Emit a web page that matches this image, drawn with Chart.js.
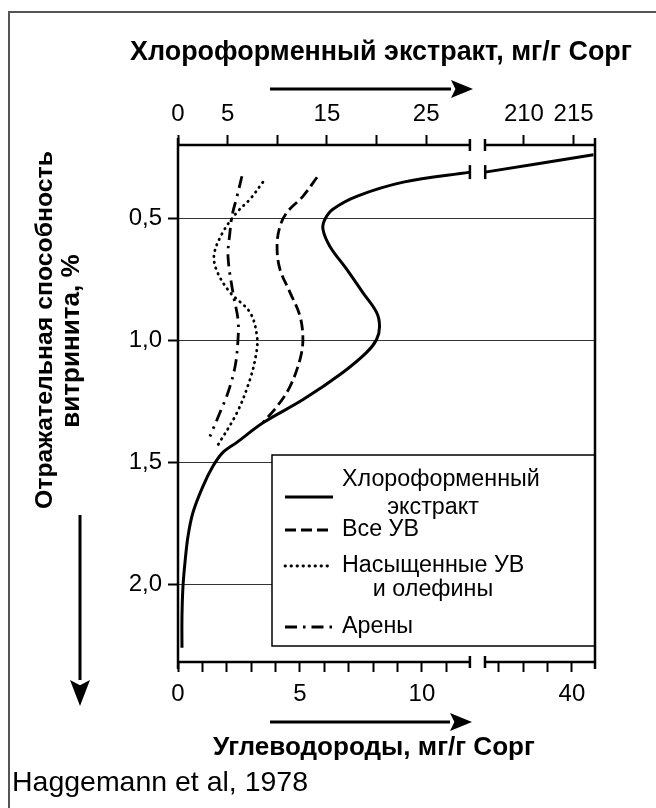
<!DOCTYPE html>
<html>
<head>
<meta charset="utf-8">
<script src="https://cdn.jsdelivr.net/npm/chart.js@4"></script>
<style>
  html, body { margin: 0; padding: 0; background: #fff; }
</style>
</head>
<body>
<canvas id="roChart" width="656" height="808"></canvas>
<script>
// Vitrinite reflectance vs. extract / hydrocarbon yield (Haggemann et al, 1978)

// Chloroform extract, mg/g Corg (top axis); null marks the axis break
const chlRo  = [0.24, 0.311, null, 0.311, 0.352, 0.41, 0.463, 0.504, 0.545, 0.615, 0.709, 0.803, 0.885, 0.943, 0.996, 1.049, 1.131, 1.242, 1.336, 1.418, 1.459, 1.516, 1.598, 1.705, 1.803, 1.91, 2.008, 2.131, 2.258];
const chlVal = [217, 206.1, null, 29.4, 22.7, 18.0, 15.6, 14.8, 14.6, 15.3, 17.0, 18.6, 20.0, 20.3, 20.0, 19.0, 16.6, 12.6, 8.6, 5.9, 4.5, 3.5, 2.5, 1.5, 1.0, 0.7, 0.5, 0.4, 0.4];

// Hydrocarbons, mg/g Corg (bottom axis)
const allRo  = [0.332, 0.41, 0.475, 0.533, 0.615, 0.709, 0.803, 0.90, 0.996, 1.078, 1.189, 1.27, 1.336];
const allVal = [5.70, 5.12, 4.47, 4.18, 4.06, 4.18, 4.59, 5.0, 5.12, 5.0, 4.59, 4.06, 3.48];

const satRo  = [0.352, 0.422, 0.475, 0.557, 0.648, 0.717, 0.803, 0.885, 0.984, 1.057, 1.16, 1.295, 1.434];
const satVal = [3.48, 2.95, 2.42, 1.84, 1.48, 1.60, 2.13, 2.95, 3.24, 3.20, 2.95, 2.42, 1.60];

const areRo  = [0.328, 0.41, 0.492, 0.557, 0.656, 0.803, 0.914, 0.996, 1.107, 1.213, 1.295, 1.393];
const areVal = [2.62, 2.42, 2.21, 2.13, 2.05, 2.25, 2.46, 2.46, 2.34, 2.05, 1.72, 1.31];

// Tick values and labels
const topTickVals   = [0, 5, 10, 15, 20, 25, 210, 215];
const topTickLabels = ['0', '5', '', '15', '', '25', '210', '215'];
const botTickVals   = [0, 1, 2, 3, 4, 5, 6, 7, 8, 9, 10, 11, 37, 38, 39, 40];
const botTickLabels = ['0', '', '', '', '', '5', '', '', '', '', '10', '', '', '', '', '40'];
const yTickVals     = [0.5, 1.0, 1.5, 2.0];
const yTickLabels   = ['0,5', '1,0', '1,5', '2,0'];

const legendNames = [['Хлороформенный', 'экстракт'], ['Все УВ'], ['Насыщенные УВ', 'и олефины'], ['Арены']];

// Broken axes: both x scales share one linear "axis unit" range
const AXIS_MAX = 42;
const BREAK_L = 29.4;
const BREAK_R = 30.92;
function topPos(v) { return v <= 30 ? v : 30.84 + (v - 206); }
const BOT_K = 2.457;
function botPos(v) { return v <= 15 ? v * BOT_K : 39.68 + (v - 40) * BOT_K; }

function points(vals, ros, pos) {
  return vals.map((v, i) => ({ x: v === null ? null : pos(v), y: ros[i] }));
}

const FONT = '"Liberation Sans", Arial, sans-serif';

// Cap marks on the chloroform curve at the axis break
const chlRadius = chlVal.map((v, i) => (i === 1 || i === 3) ? 7 : 0);

const datasets = [
  {
    label: legendNames[0].join(' '),
    data: points(chlVal, chlRo, topPos),
    xAxisID: 'xTop',
    borderColor: '#000',
    borderWidth: 3,
    borderDash: [],
    pointStyle: 'line',
    pointRotation: 90,
    pointRadius: chlRadius,
    pointBorderWidth: 2.5,
    pointBorderColor: '#000'
  },
  {
    label: legendNames[1].join(' '),
    data: points(allVal, allRo, botPos),
    xAxisID: 'xBot',
    borderColor: '#000',
    borderWidth: 2.8,
    borderDash: [11, 5],
    pointRadius: 0
  },
  {
    label: legendNames[2].join(' '),
    data: points(satVal, satRo, botPos),
    xAxisID: 'xBot',
    borderColor: '#000',
    borderWidth: 2.8,
    borderDash: [0.5, 5.5],
    borderCapStyle: 'round',
    pointRadius: 0
  },
  {
    label: legendNames[3].join(' '),
    data: points(areVal, areRo, botPos),
    xAxisID: 'xBot',
    borderColor: '#000',
    borderWidth: 2.8,
    borderDash: [12, 6, 2.5, 6],
    pointRadius: 0
  }
];

function fitSize(ctx, text, width, weight) {
  ctx.font = weight + ' 100px ' + FONT;
  return 100 * width / ctx.measureText(text).width;
}

function arrow(ctx, x1, y1, x2, y2, headLen, headW) {
  const a = Math.atan2(y2 - y1, x2 - x1);
  ctx.save();
  ctx.lineWidth = 3;
  ctx.beginPath();
  ctx.moveTo(x1, y1);
  ctx.lineTo(x2 - headLen * Math.cos(a), y2 - headLen * Math.sin(a));
  ctx.stroke();
  ctx.translate(x2, y2);
  ctx.rotate(a);
  ctx.beginPath();
  ctx.moveTo(0, 0);
  ctx.lineTo(-headLen, -headW / 2);
  ctx.lineTo(-headLen * 0.8, 0);
  ctx.lineTo(-headLen, headW / 2);
  ctx.closePath();
  ctx.fill();
  ctx.restore();
}

// Frame, broken axes, legend, arrows and titles
const decorPlugin = {
  id: 'decor',
  beforeDraw(chart) {
    const ctx = chart.ctx;
    ctx.save();
    ctx.fillStyle = '#fff';
    ctx.fillRect(0, 0, chart.width, chart.height);
    ctx.restore();
  },
  afterDatasetsDraw(chart) {
    const ctx = chart.ctx;
    const area = chart.chartArea;
    ctx.save();
    ctx.strokeStyle = '#000';
    ctx.fillStyle = '#000';

    // legend box
    const lx = 272, ly = 455, lw = area.right - 272, lh = 191;
    ctx.fillStyle = '#fff';
    ctx.fillRect(lx, ly, lw, lh);
    ctx.lineWidth = 1.5;
    ctx.strokeRect(lx, ly, lw, lh);
    ctx.fillStyle = '#000';

    const sampleY = [497, 530, 566, 627];
    const textY = [[480, 508], [530], [566, 590], [627]];
    const legendSize = fitSize(ctx, legendNames[0][0], 198, 'normal');
    chart.data.datasets.forEach((ds, i) => {
      ctx.save();
      ctx.lineWidth = ds.borderWidth;
      ctx.lineCap = ds.borderCapStyle || 'butt';
      ctx.setLineDash(ds.borderDash);
      ctx.beginPath();
      ctx.moveTo(285, sampleY[i]);
      ctx.lineTo(333, sampleY[i]);
      ctx.stroke();
      ctx.restore();
      ctx.font = legendSize + 'px ' + FONT;
      ctx.textBaseline = 'middle';
      legendNames[i].forEach((t, j) => {
        if (j === 0) {
          ctx.textAlign = 'left';
          ctx.fillText(t, 342, textY[i][j]);
        } else {
          ctx.textAlign = 'center';
          ctx.fillText(t, 433, textY[i][j]);
        }
      });
    });
    ctx.restore();
  },
  afterDraw(chart) {
    const ctx = chart.ctx;
    const area = chart.chartArea;
    const xTop = chart.scales.xTop;
    const bl = xTop.getPixelForValue(BREAK_L);
    const br = xTop.getPixelForValue(BREAK_R);
    ctx.save();
    ctx.strokeStyle = '#000';
    ctx.fillStyle = '#000';
    ctx.lineWidth = 2.5;

    // axis frame with breaks
    ctx.beginPath();
    ctx.moveTo(area.left, area.top - 7); ctx.lineTo(area.left, area.bottom + 7);
    ctx.moveTo(area.right, area.top - 7); ctx.lineTo(area.right, area.bottom + 7);
    [area.top, area.bottom].forEach(y => {
      ctx.moveTo(area.left, y); ctx.lineTo(bl, y);
      ctx.moveTo(br, y); ctx.lineTo(area.right, y);
      ctx.moveTo(bl, y - 6); ctx.lineTo(bl, y + 6);
      ctx.moveTo(br, y - 6); ctx.lineTo(br, y + 6);
    });
    ctx.stroke();

    // outer picture frame
    ctx.strokeStyle = '#555';
    ctx.lineWidth = 2;
    ctx.beginPath();
    ctx.moveTo(9, chart.height); ctx.lineTo(9, 12); ctx.lineTo(chart.width, 12);
    ctx.stroke();
    ctx.strokeStyle = '#000';

    // arrows
    arrow(ctx, 270, 89, 473, 89, 22, 18);
    arrow(ctx, 270, 722, 472, 722, 22, 18);
    arrow(ctx, 80, 515, 80, 706, 26, 20);

    // titles
    ctx.textAlign = 'center';
    ctx.textBaseline = 'middle';
    let s = fitSize(ctx, 'Хлороформенный экстракт, мг/г Сорг', 502, 'bold');
    ctx.font = 'bold ' + s + 'px ' + FONT;
    ctx.fillText('Хлороформенный экстракт, мг/г Сорг', 381, 53);
    s = fitSize(ctx, 'Углеводороды, мг/г Сорг', 322, 'bold');
    ctx.font = 'bold ' + s + 'px ' + FONT;
    ctx.fillText('Углеводороды, мг/г Сорг', 374, 748);

    ctx.save();
    ctx.translate(45, 330);
    ctx.rotate(-Math.PI / 2);
    s = fitSize(ctx, 'Отражательная способность', 358, 'bold');
    ctx.font = 'bold ' + s + 'px ' + FONT;
    ctx.fillText('Отражательная способность', 0, 0);
    ctx.restore();
    ctx.save();
    ctx.translate(72, 341);
    ctx.rotate(-Math.PI / 2);
    ctx.fillText('витринита, %', 0, 0);
    ctx.restore();

    s = fitSize(ctx, 'Haggemann et al, 1978', 296, 'normal');
    ctx.font = s + 'px ' + FONT;
    ctx.textAlign = 'left';
    ctx.fillText('Haggemann et al, 1978', 12, 783);
    ctx.restore();
  }
};

const tickFont = { family: FONT, size: 24 };

new Chart(document.getElementById('roChart'), {
  type: 'line',
  data: { datasets: datasets },
  options: {
    responsive: false,
    animation: false,
    events: [],
    spanGaps: false,
    elements: { line: { tension: 0.35, fill: false } },
    layout: { padding: { left: 0, right: 61, top: 0, bottom: 0 } },
    plugins: {
      legend: { display: false },
      tooltip: { enabled: false }
    },
    scales: {
      xTop: {
        type: 'linear',
        position: 'top',
        min: 0,
        max: AXIS_MAX,
        afterFit: s => { s.height = 145; },
        afterBuildTicks: s => { s.ticks = topTickVals.map(v => ({ value: topPos(v) })); },
        ticks: {
          autoSkip: false, maxRotation: 0, padding: 6, color: '#000', font: tickFont,
          callback: (val, i) => topTickLabels[i]
        },
        grid: { drawOnChartArea: false, tickLength: 10, tickWidth: 2, tickColor: '#000' },
        border: { display: false }
      },
      xBot: {
        type: 'linear',
        position: 'bottom',
        min: 0,
        max: AXIS_MAX,
        afterFit: s => { s.height = 146; },
        afterBuildTicks: s => { s.ticks = botTickVals.map(v => ({ value: botPos(v) })); },
        ticks: {
          autoSkip: false, maxRotation: 0, padding: 8, color: '#000', font: tickFont,
          callback: (val, i) => botTickLabels[i]
        },
        grid: { drawOnChartArea: false, tickLength: 10, tickWidth: 2, tickColor: '#000' },
        border: { display: false }
      },
      y: {
        type: 'linear',
        position: 'left',
        reverse: true,
        min: 0.2,
        max: 2.316,
        afterFit: s => { s.width = 178; },
        afterBuildTicks: s => { s.ticks = yTickVals.map(v => ({ value: v })); },
        ticks: {
          autoSkip: false, padding: 6, color: '#000', font: tickFont,
          callback: (val, i) => yTickLabels[i]
        },
        grid: { color: '#333', lineWidth: 1, tickLength: 10, tickWidth: 2, tickColor: '#000' },
        border: { display: false }
      }
    }
  },
  plugins: [decorPlugin]
});
</script>
</body>
</html>
